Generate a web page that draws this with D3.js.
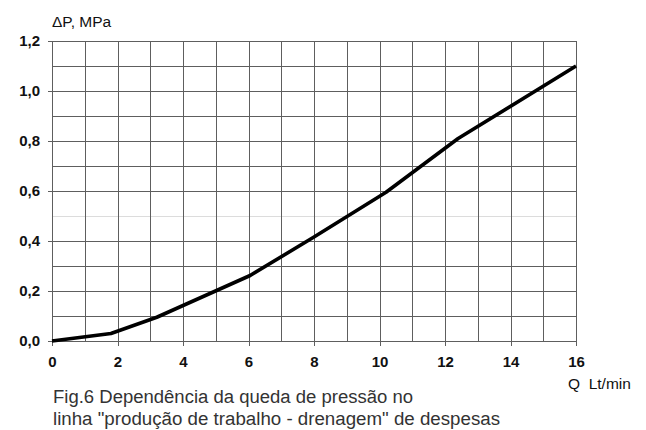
<!DOCTYPE html>
<meta charset="utf-8">
<style>

body
{
  margin: 0;
  background: #fff;
}

.grid line
{
  stroke: #5e5e5e;
  stroke-width: 1px;
  shape-rendering: crispEdges;
}

.grid line.light
{
  stroke: #dcdcdc;
}

.axis text
{
  font: bold 15px "Liberation Sans", Arial, sans-serif;
  fill: #111;
}

.axis line, .axis path
{
  stroke: #5e5e5e;
  shape-rendering: crispEdges;
}

.curve
{
  fill: none;
  stroke: #000;
  stroke-width: 3.6px;
  stroke-linejoin: round;
}

.label
{
  font: 15.5px "Liberation Sans", Arial, sans-serif;
  fill: #111;
}

.caption
{
  font: 18px "Liberation Sans", Arial, sans-serif;
  fill: #333;
}

</style>
<svg width="646" height="430"></svg>
<script src="https://d3js.org/d3.v7.min.js"></script>
<script>

// flow Q (Lt/min) against pressure drop dP (MPa)
var flow = [0, 1.8, 3.2, 6.05, 8, 10.2, 12.4, 16];
var pressure = [0, 0.03, 0.095, 0.262, 0.416, 0.595, 0.81, 1.1];

var xTicks = [0, 2, 4, 6, 8, 10, 12, 14, 16];
var yTicks = [0, 0.2, 0.4, 0.6, 0.8, 1.0, 1.2];

var yTitle = "\u0394P, MPa";
var xTitle = "Q\u00a0\u00a0Lt/min";
var caption = [
  "Fig.6 Depend\u00eancia da queda de press\u00e3o no",
  "linha \"produ\u00e7\u00e3o de trabalho - drenagem\" de despesas"
];
var captionWidths = [360, 447];

var svg = d3.select("svg"),
    margin = {top: 41, right: 70, bottom: 89, left: 52},
    width = +svg.attr("width") - margin.left - margin.right,
    height = +svg.attr("height") - margin.top - margin.bottom;

var x = d3.scaleLinear().domain([0, 16]).range([0, width]);
var y = d3.scaleLinear().domain([0, 1.2]).range([height, 0]);

var g = svg.append("g")
    .attr("transform", "translate(" + margin.left + "," + margin.top + ")");

var grid = g.append("g").attr("class", "grid");

grid.selectAll("line.h")
  .data(d3.range(0, 13))
  .enter().append("line")
    .attr("class", function(d) { return d === 5 ? "h light" : "h"; })
    .attr("x1", 0)
    .attr("x2", width)
    .attr("y1", function(d) { return Math.round(y(d / 10)) + 0.5; })
    .attr("y2", function(d) { return Math.round(y(d / 10)) + 0.5; });

grid.selectAll("line.v")
  .data(d3.range(0, 17))
  .enter().append("line")
    .attr("class", "v")
    .attr("y1", 0)
    .attr("y2", height)
    .attr("x1", function(d) { return Math.round(x(d)) + 0.5; })
    .attr("x2", function(d) { return Math.round(x(d)) + 0.5; });

var fmt = function(d) { return d3.format(".1f")(d).replace(".", ","); };

var xAxis = g.append("g")
    .attr("class", "axis")
    .attr("transform", "translate(0," + height + ")")
    .call(d3.axisBottom(x).tickValues(xTicks).tickSize(5).tickPadding(10).tickSizeOuter(0));

var yAxis = g.append("g")
    .attr("class", "axis")
    .call(d3.axisLeft(y).tickValues(yTicks).tickFormat(fmt).tickSize(4).tickPadding(8).tickSizeOuter(0));

xAxis.select(".domain").remove();
yAxis.select(".domain").remove();

var line = d3.line()
    .x(function(d, i) { return x(flow[i]); })
    .y(function(d) { return y(d); });

g.append("path")
    .datum(pressure)
    .attr("class", "curve")
    .attr("d", line);

svg.append("text")
    .attr("class", "label")
    .attr("x", 52)
    .attr("y", 27)
    .text(yTitle);

svg.append("text")
    .attr("class", "label")
    .attr("x", 568)
    .attr("y", 389)
    .text(xTitle);

svg.selectAll("text.caption")
  .data(caption)
  .enter().append("text")
    .attr("class", "caption")
    .attr("x", 53)
    .attr("y", function(d, i) { return 403 + i * 22; })
    .attr("textLength", function(d, i) { return captionWidths[i]; })
    .attr("lengthAdjust", "spacingAndGlyphs")
    .text(function(d) { return d; });

</script>
